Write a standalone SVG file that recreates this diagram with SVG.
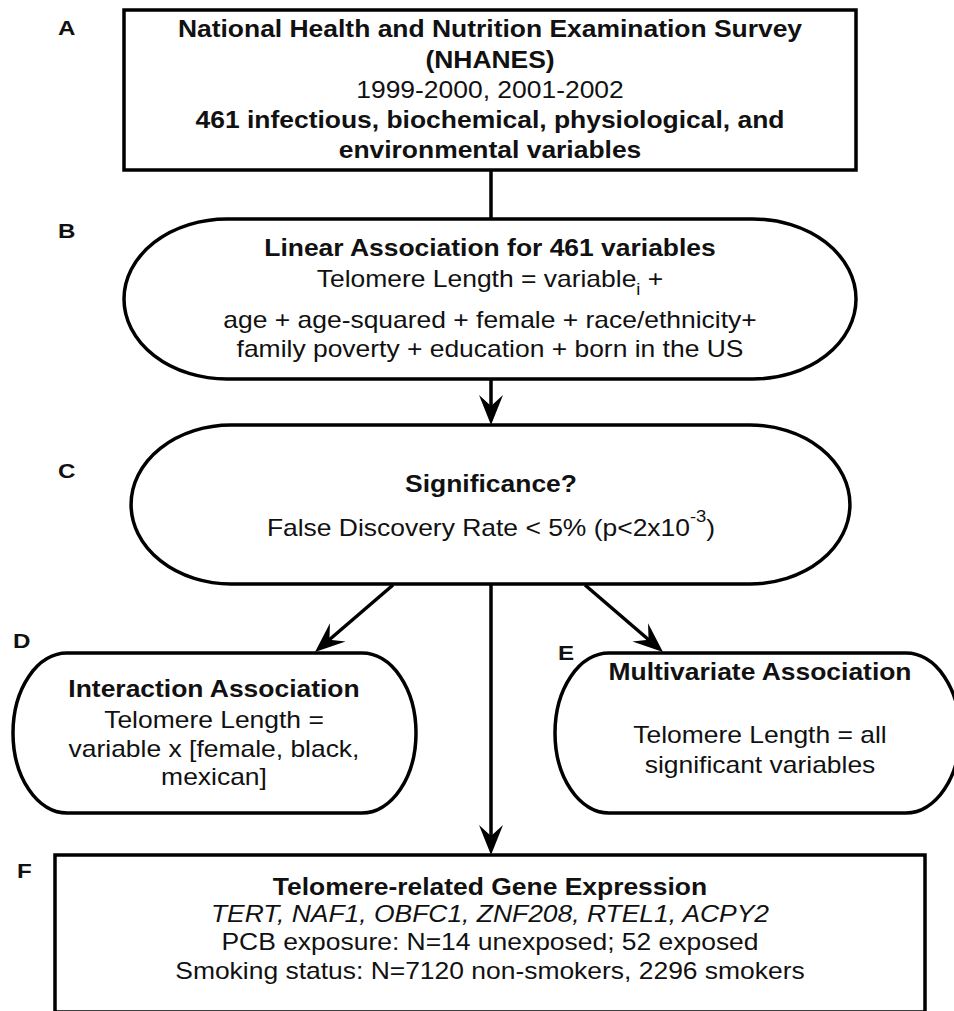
<svg xmlns="http://www.w3.org/2000/svg" width="954" height="1011" viewBox="0 0 954 1011">
<style>
.shape{fill:#fff;stroke:#000;stroke-width:3.5}
.conn{fill:none;stroke:#000;stroke-width:3.5}
text{font-family:"Liberation Sans",Arial,Helvetica,sans-serif;font-size:23px;fill:#111;text-anchor:middle}
.b{font-weight:bold}
.it{font-style:italic}
.lbl{font-weight:bold;font-size:21px;text-anchor:start}
</style>
<defs>
<marker id="arr" markerUnits="userSpaceOnUse" markerWidth="44" markerHeight="32" viewBox="-34 -16 44 32" refX="-10" refY="0" orient="auto" overflow="visible">
<path d="M0,0 L-30,-12 L-19,0 L-30,12 Z" fill="#000"/>
</marker>
</defs>
<rect width="954" height="1011" fill="#fff"/>
<g id="connectors">
<line class="conn" x1="491" y1="170" x2="491" y2="219"/>
<line class="conn" x1="491" y1="379" x2="491" y2="415" marker-end="url(#arr)"/>
<line class="conn" x1="393" y1="585" x2="322.6" y2="645.5" marker-end="url(#arr)"/>
<line class="conn" x1="491" y1="585" x2="491" y2="845" marker-end="url(#arr)"/>
<line class="conn" x1="585" y1="585" x2="655.4" y2="645.5" marker-end="url(#arr)"/>
</g>
<g id="node-A">
<rect class="shape" x="124" y="10" width="732" height="160"/>
<text class="lbl" transform="translate(58,35) scale(1.15,1)">A</text>
<g transform="translate(490,0) scale(1.15,1)">
<text class="b" x="0" y="37">National Health and Nutrition Examination Survey</text>
<text class="b" x="0" y="68">(NHANES)</text>
<text x="0" y="98">1999-2000, 2001-2002</text>
<text class="b" x="0" y="128">461 infectious, biochemical, physiological, and</text>
<text class="b" x="0" y="158">environmental variables</text>
</g>
</g>
<g id="node-B">
<path class="shape" d="M227,219 H753 A103,80 0 0 1 753,379 H227 A103,80 0 0 1 227,219 Z"/>
<text class="lbl" transform="translate(58,238) scale(1.15,1)">B</text>
<g transform="translate(490,0) scale(1.15,1)">
<text class="b" x="0" y="256">Linear Association for 461 variables</text>
<text x="0" y="287">Telomere Length = variable<tspan font-size="16" dy="8">i</tspan><tspan dy="-8"> +</tspan></text>
<text x="0" y="328">age + age-squared + female + race/ethnicity+</text>
<text x="0" y="357">family poverty + education + born in the US</text>
</g>
</g>
<g id="node-C">
<path class="shape" d="M231,425 H750 A100,79.5 0 0 1 750,584 H231 A100,79.5 0 0 1 231,425 Z"/>
<text class="lbl" transform="translate(58,478) scale(1.15,1)">C</text>
<g transform="translate(491,0) scale(1.15,1)">
<text class="b" x="0" y="492">Significance?</text>
<text x="0" y="536">False Discovery Rate &lt; 5% (p&lt;2x10<tspan font-size="16" dy="-14">-3</tspan><tspan dy="14">)</tspan></text>
</g>
</g>
<g id="node-D">
<path class="shape" d="M67,653 H362 A54,80 0 0 1 362,813 H67 A54,80 0 0 1 67,653 Z"/>
<text class="lbl" transform="translate(13,648) scale(1.15,1)">D</text>
<g transform="translate(214,0) scale(1.15,1)">
<text class="b" x="0" y="697">Interaction Association</text>
<text x="0" y="728">Telomere Length =</text>
<text x="0" y="757">variable x [female, black,</text>
<text x="0" y="785">mexican]</text>
</g>
</g>
<g id="node-E">
<path class="shape" d="M609,653 H906 A54,80 0 0 1 906,813 H609 A54,80 0 0 1 609,653 Z"/>
<text class="lbl" transform="translate(558,660) scale(1.15,1)">E</text>
<g transform="translate(760,0) scale(1.15,1)">
<text class="b" x="0" y="680">Multivariate Association</text>
<text x="0" y="743">Telomere Length = all</text>
<text x="0" y="773">significant variables</text>
</g>
</g>
<g id="node-F">
<rect class="shape" x="55" y="855" width="870" height="157"/>
<text class="lbl" transform="translate(17,878) scale(1.15,1)">F</text>
<g transform="translate(490,0) scale(1.15,1)">
<text class="b" x="0" y="895">Telomere-related Gene Expression</text>
<text class="it" x="0" y="922">TERT, NAF1, OBFC1, ZNF208, RTEL1, ACPY2</text>
<text x="0" y="950">PCB exposure: N=14 unexposed; 52 exposed</text>
<text x="0" y="979">Smoking status: N=7120 non-smokers, 2296 smokers</text>
</g>
</g>
</svg>
